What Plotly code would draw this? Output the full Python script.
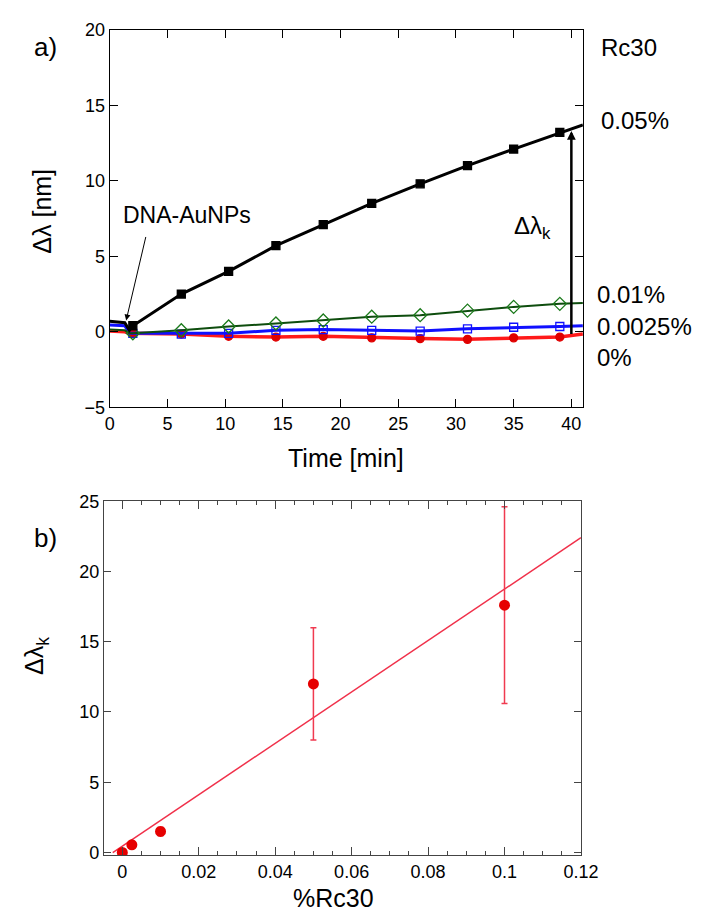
import plotly.graph_objects as go

W, H = 709, 916

# ---------------- data: panel a ----------------
t_start = [0.0, 1.3, 1.7]
t_marks = [2.0, 6.2, 10.3, 14.4, 18.5, 22.7, 26.9, 31.0, 35.0, 39.0]
t_end = [41.0]

black_start = [0.7, 0.6, 0.1]
black_marks = [0.4, 2.5, 4.0, 5.7, 7.1, 8.5, 9.8, 11.0, 12.1, 13.2]
black_end = [13.7]

green_start = [0.15, 0.1, -0.1]
green_marks = [-0.1, 0.1, 0.35, 0.55, 0.75, 1.0, 1.1, 1.4, 1.65, 1.85]
green_end = [1.9]

blue_start = [0.45, 0.4, -0.1]
blue_marks = [-0.1, -0.15, -0.1, 0.1, 0.15, 0.1, 0.05, 0.2, 0.3, 0.35]
blue_end = [0.4]

red_start = [0.05, 0.0, -0.1]
red_marks = [-0.1, -0.15, -0.3, -0.35, -0.3, -0.4, -0.45, -0.5, -0.4, -0.35]
red_end = [-0.15]

series_labels = ["0.05%", "0.01%", "0.0025%", "0%"]

# ---------------- data: panel b ----------------
rc30_pct = [0.0, 0.0025, 0.01, 0.05, 0.1]
dlk = [0.0, 0.55, 1.5, 12.0, 17.6]
dlk_err = [0.15, 0.25, 0.3, 4.0, 7.0]
fit_x = [-0.0025, 0.12]
fit_y = [0.0, 22.4]

FONT = "Arial, 'Liberation Sans', sans-serif"


def px(x):
    return x / W


def py(y):
    return 1 - y / H


fig = go.Figure()


def add_series(ts, ys, line_color, lw, msym, msize, mcolor, mfill, name):
    xs = t_start + t_marks + t_end
    fig.add_trace(go.Scatter(x=xs, y=ys, mode="lines", line=dict(color=line_color, width=lw),
                             xaxis="x", yaxis="y", showlegend=False, hoverinfo="skip", name=name))
    fig.add_trace(go.Scatter(x=t_marks, y=ts, mode="markers",
                             marker=dict(symbol=msym, size=msize, color=mfill,
                                         line=dict(color=mcolor, width=1.3)),
                             xaxis="x", yaxis="y", showlegend=False, name=name))


add_series(red_marks, red_start + red_marks + red_end, "#ff1a1a", 3.5, "circle", 8, "#e00000", "#e00000", "0%")
add_series(blue_marks, blue_start + blue_marks + blue_end, "#1010ff", 3, "square-open", 8, "#1010ff", "#1010ff", "0.0025%")
add_series(green_marks, green_start + green_marks + green_end, "#0e4d0e", 2, "diamond-open", 10, "#1b7a1b", "#1b7a1b", "0.01%")
add_series(black_marks, black_start + black_marks + black_end, "#000000", 3, "square", 8, "#000000", "#000000", "0.05%")

# panel b
fig.add_trace(go.Scatter(x=fit_x, y=fit_y, mode="lines", line=dict(color="#f0304a", width=1.5),
                         xaxis="x2", yaxis="y2", showlegend=False, hoverinfo="skip"))
fig.add_trace(go.Scatter(x=rc30_pct, y=dlk, mode="markers",
                         marker=dict(symbol="circle", size=11, color="#e60000"),
                         error_y=dict(type="data", array=dlk_err, color="#f03a50", thickness=1.5, width=3),
                         xaxis="x2", yaxis="y2", showlegend=False))
# invisible trace on the minor-tick overlay axis so it is drawn
fig.add_trace(go.Scatter(x=fit_x, y=fit_y, mode="lines", line=dict(width=0, color="rgba(0,0,0,0)"),
                         xaxis="x3", yaxis="y2", showlegend=False, hoverinfo="skip"))

axis_common = dict(showline=True, mirror="ticks", linecolor="#000", linewidth=1.3,
                   ticks="inside", tickcolor="#000", tickwidth=1.2, showgrid=False, zeroline=False,
                   tickfont=dict(family=FONT, size=18, color="#000"))
gray = {"linecolor": "#444", "tickcolor": "#444"}

fig.update_layout(
    width=W, height=H, margin=dict(l=0, r=0, t=0, b=0),
    paper_bgcolor="white", plot_bgcolor="white",
    xaxis=dict(domain=[px(100), px(589)], range=[0, 41], tickmode="linear", tick0=0, dtick=5,
               ticklen=8, anchor="y", **axis_common),
    yaxis=dict(domain=[py(398), py(12)], range=[-5, 20], tickmode="linear", tick0=0, dtick=5,
               ticklen=8, anchor="x", **axis_common),
    xaxis2=dict(domain=[px(94), px(587)], range=[-0.0048, 0.12],
                tickmode="linear", tick0=0, dtick=0.02,
                ticklen=8, anchor="y2",
                **{**axis_common, **gray}),
    xaxis3=dict(domain=[px(94), px(587)], range=[-0.0048, 0.12], overlaying="x2", anchor="y2",
                tickmode="linear", tick0=0, dtick=0.005, ticks="inside", ticklen=4,
                tickcolor="#444", tickwidth=1, showticklabels=False, showline=False,
                mirror="ticks", showgrid=False, zeroline=False),
    yaxis2=dict(domain=[py(856), py(494)], range=[-0.2, 25], tickmode="linear", tick0=0, dtick=5,
                ticklen=7, anchor="x2",
                **{**axis_common, **gray}),
)

ann = []


def label(x, y, text, size=24, xanchor="center", textangle=0):
    ann.append(dict(x=px(x), y=py(y), xref="paper", yref="paper", text=text, showarrow=False,
                    xanchor=xanchor, yanchor="middle", textangle=textangle,
                    font=dict(family=FONT, size=size, color="#000")))


label(34, 30, "a)", 26)
label(34, 532, "b)", 26)
label(30, 198, "Δλ [nm]", 25, textangle=-90)
label(24, 652, "Δλ<sub>k</sub>", 25, textangle=-90)
label(344, 450, "Time [min]", 25)
label(331, 900, "%Rc30", 25)
label(606, 30, "Rc30", 24, xanchor="left")
label(606, 105, series_labels[0], 24, xanchor="left")
label(601, 283, series_labels[1], 24, xanchor="left")
label(601, 315, series_labels[2], 24, xanchor="left")
label(601, 347, series_labels[3], 24, xanchor="left")
label(180, 201, "DNA-AuNPs", 23)
label(537, 214, "Δλ<sub>k</sub>", 24)

# arrow: DNA-AuNPs pointer
ann.append(dict(x=1.42, y=0.75, xref="x", yref="y", ax=20, ay=-85, axref="pixel", ayref="pixel",
                text="", showarrow=True, arrowhead=2, arrowsize=1.2, arrowwidth=1, arrowcolor="#000"))
# arrow: delta lambda k
ann.append(dict(x=40, y=13.3, xref="x", yref="y", ax=40, ay=-0.25, axref="x", ayref="y",
                text="", showarrow=True, arrowhead=2, arrowsize=0.7, arrowwidth=2.5, arrowcolor="#000"))

fig.update_layout(annotations=ann)

fig.write_html("out.html")
